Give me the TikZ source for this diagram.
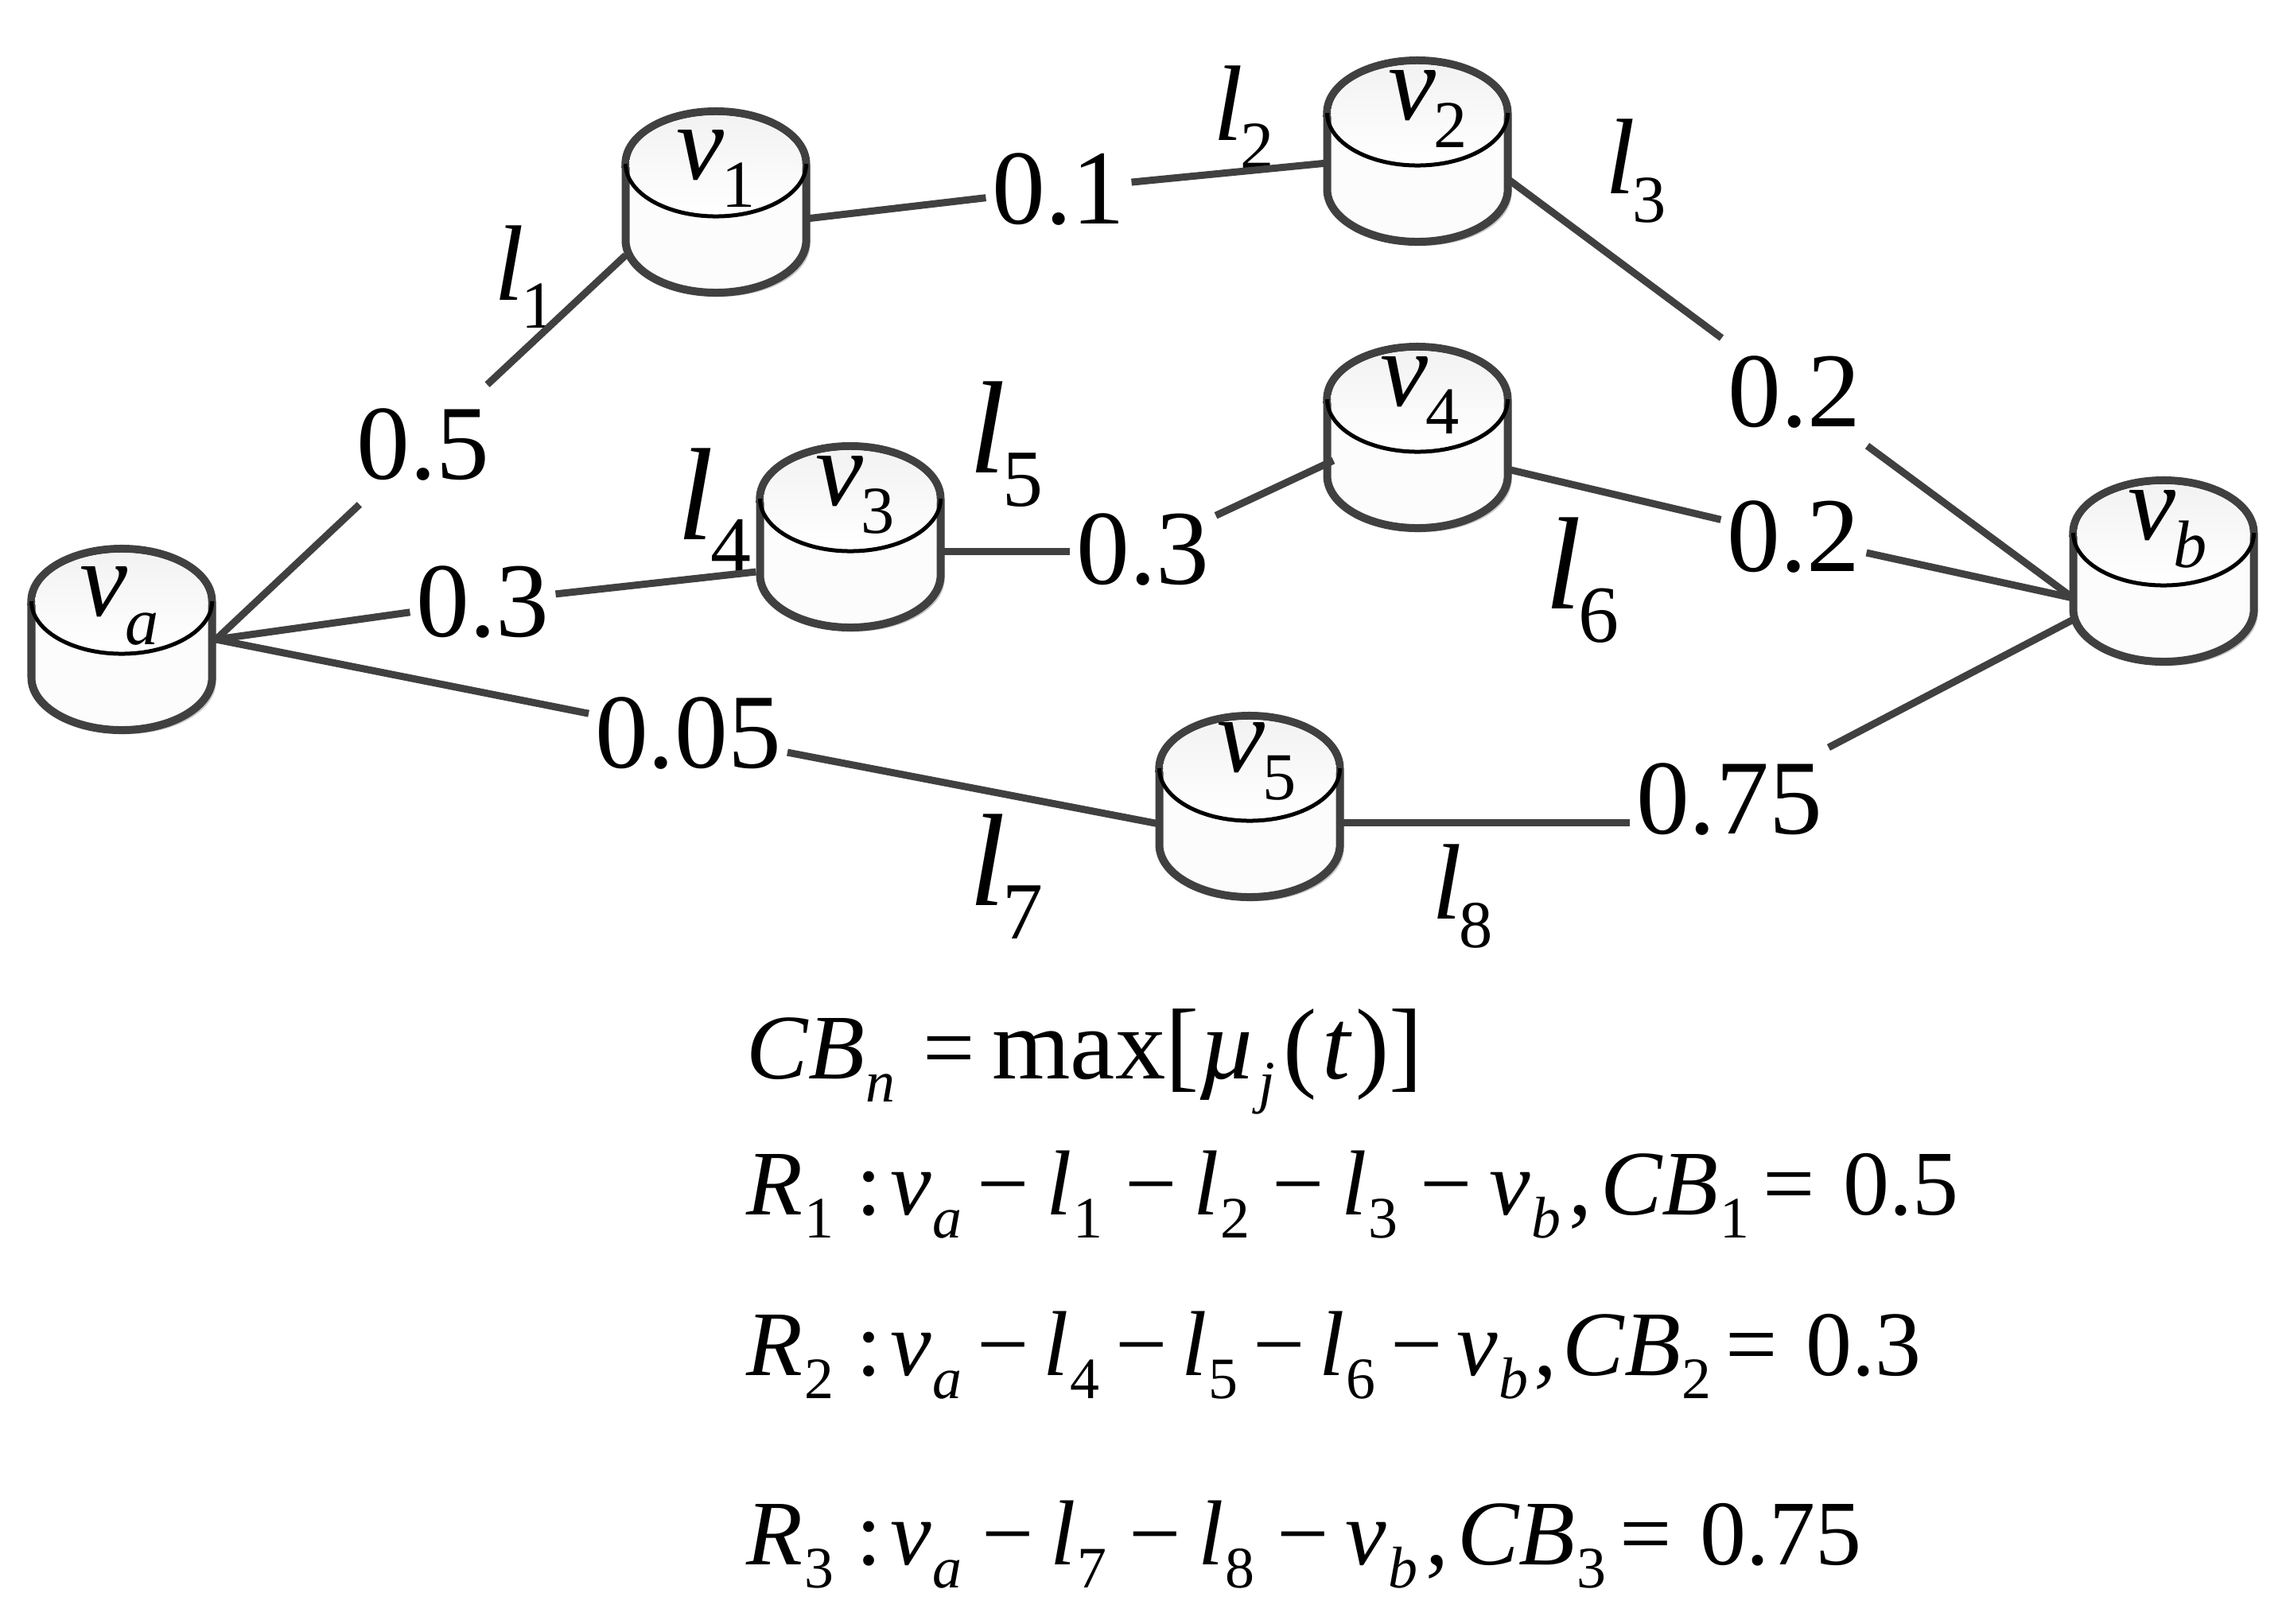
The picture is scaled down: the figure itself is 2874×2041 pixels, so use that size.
\documentclass[tikz,border=0pt]{standalone}
\usepackage{fontspec}
\setmainfont{Liberation Serif}
\newcommand\GT[2]{{\fontsize{38.4}{40}\selectfont\itshape #1}\kern-1pt\raisebox{-10pt}{\fontsize{24}{26}\selectfont #2}}
\newcommand\GL[2]{{\fontsize{47}{50}\selectfont\itshape #1}\kern-1pt\raisebox{-12pt}{\fontsize{29}{31}\selectfont #2}}
\newcommand\GI[2]{{\fontsize{38.4}{40}\selectfont\itshape #1}\kern-1pt\raisebox{-10pt}{\fontsize{24}{26}\selectfont\itshape #2}}
\newcommand\FT[2]{{\itshape #1}\kern.5pt\raisebox{-8.5pt}{\fontsize{21}{23}\selectfont #2}}
\newcommand\FI[2]{{\itshape #1}\kern.5pt\raisebox{-8.5pt}{\fontsize{21}{23}\selectfont\itshape #2}}
\newcommand\MN[2]{\kern#1pt\char"2212\kern#2pt}
\newcommand\EQ{\kern5pt=\kern10pt}
\definecolor{cylline}{HTML}{404040}
\tikzset{
  x=0.01cm,y=-0.01cm,
  cylnode/.style={minimum width=2.27cm,minimum height=2.28cm,inner sep=0pt,outer sep=0pt},
  cyltext/.style={inner sep=0pt},
  conn/.style={line width=0.09cm,draw=cylline},
  edgelab/.style={font=\fontsize{38}{40}\selectfont,inner xsep=0.08cm,inner ysep=0.3cm,outer sep=0pt},
  linklab/.style={inner sep=0pt},
  formula/.style={anchor=base west,inner sep=0pt,font=\fontsize{33}{36}\selectfont}
}
\newcommand\cyl[3]{%
  \node[cylnode] (#1) at (#2,#3) {};
  \begin{scope}[shift={(#2,#3)}]
    \fill[black!22] (-108.5,-43) -- (-108.5,53) arc[start angle=180,end angle=360,x radius=1.135cm,y radius=.66cm] -- (118.5,-43) arc[start angle=0,end angle=180,x radius=1.135cm,y radius=.66cm] -- cycle;
    \path[fill=white!99!black,draw=cylline,line width=0.1cm] (-113.5,-48) -- (-113.5,48) arc[start angle=180,end angle=360,x radius=1.135cm,y radius=.66cm] -- (113.5,-48) arc[start angle=0,end angle=180,x radius=1.135cm,y radius=.66cm] -- cycle;
    \shade[top color=black!5,bottom color=white] (-108.5,-48) arc[start angle=180,end angle=360,x radius=1.085cm,y radius=.64cm] -- (108.5,-48) arc[start angle=0,end angle=180,x radius=1.085cm,y radius=.61cm] -- cycle;
    \draw[black,line width=0.05cm] (-113.5,-48) arc[start angle=180,end angle=360,x radius=1.135cm,y radius=.66cm];
  \end{scope}}
\begin{document}
\begin{tikzpicture}
\useasboundingbox (0,0) rectangle (2874,2041);
\fill[white] (0,0) rectangle (2874,2041);
\cyl{va}{153}{804}
\cyl{v1}{900}{254}
\cyl{v2}{1782}{190}
\cyl{v3}{1069}{675}
\cyl{v4}{1782}{550}
\cyl{v5}{1571}{1014}
\cyl{vb}{2720}{718}
% cylinder labels
\node[cyltext] (tva) at (150,762) {\GI{v}{a}};
\node[cyltext] (tv1) at (900,212) {\GT{v}{1}};
\node[cyltext] (tv2) at (1795,137) {\GT{v}{2}};
\node[cyltext] (tv3) at (1075,622) {\GT{v}{3}};
\node[cyltext] (tv4) at (1785,497) {\GT{v}{4}};
\node[cyltext] (tv5) at (1580,957) {\GT{v}{5}};
\node[cyltext] (tvb) at (2725,665) {\GI{v}{b}};
% edge weights
\node[edgelab] (w1) at (532,559) {0.5};
\node[edgelab] (w2) at (1331,238) {0.1};
\node[edgelab] (w3) at (2256,493) {0.2};
\node[edgelab] (w4) at (607,757) {0.3};
\node[edgelab] (w5) at (1437,691) {0.3};
\node[edgelab] (w6) at (2255,675) {0.2};
\node[edgelab] (w7) at (865,922) {0.05};
\node[edgelab] (w8) at (2174,1005) {0.75};
% link labels
\node[linklab] (l1) at (660,348) {\GT{l}{1}};
\node[linklab] (l2) at (1564,147) {\GT{l}{2}};
\node[linklab] (l3) at (2057,215) {\GT{l}{3}};
\node[linklab] (l4) at (898,642) {\GL{l}{4}};
\node[linklab] (l5) at (1265,559) {\GL{l}{5}};
\node[linklab] (l6) at (1989,730) {\GL{l}{6}};
\node[linklab] (l7) at (1265,1102) {\GL{l}{7}};
\node[linklab] (l8) at (1839,1127) {\GT{l}{8}};
% connectors
\draw[conn] ([xshift=0.05cm]va.east) -- (w1);
\draw[conn] (w1) -- ([yshift=-0.67cm]v1.west);
\draw[conn] ([xshift=0.05cm]va.east) -- (w4);
\draw[conn] (w4) -- ([yshift=-0.44cm,xshift=-0.05cm]v3.west);
\draw[conn] ([xshift=0.05cm]va.east) -- (w7);
\draw[conn] (w7) -- ([yshift=-0.22cm]v5.west);
\draw[conn] ([yshift=-0.21cm]v1.east) -- (w2);
\draw[conn] (w2) -- ([yshift=-0.15cm]v2.west);
\draw[conn] ([yshift=-0.35cm]v2.east) -- (w3);
\draw[conn] (w3) -- ([yshift=-0.34cm]vb.west);
\draw[conn] ([yshift=-0.18cm]v3.east) -- ([yshift=-0.18cm]v3.east -| w5.west);
\draw[conn] (w5) -- ([yshift=-0.29cm,xshift=0.08cm]v4.west);
\draw[conn] ([yshift=-0.40cm]v4.east) -- (w6);
\draw[conn] (w6) -- ([yshift=-0.34cm]vb.west);
\draw[conn] ([yshift=-0.20cm]v5.east) -- ([yshift=-0.20cm]v5.east -| w8.west);
\draw[conn] (w8) -- ([yshift=-0.61cm]vb.west);
% formulas
\node[formula] (f0) at (938,1356) {\FI{CB}{n}\kern5pt\EQ\kern-4pt{\fontsize{36}{38}\selectfont max[\FI{\textmu}{j}\kern3pt(\kern2pt{\itshape t}\kern2pt)]}};
\node[formula] (f1) at (938,1527) {\FT{R}{1}\kern8pt:\kern3pt\FI{v}{a}\MN{5.5}{6}\FT{l}{1}\MN{8}{6}\FT{l}{2}\MN{8}{6}\FT{l}{3}\MN{8}{6}\FI{v}{b}\kern3pt,\kern3pt\FT{CB}{1}\EQ 0.5};
\node[formula] (f2) at (938,1729) {\FT{R}{2}\kern8pt:\kern3pt\FI{v}{a}\MN{5.5}{5}\FT{l}{4}\MN{5.5}{5}\FT{l}{5}\MN{5.5}{5}\FT{l}{6}\MN{5.5}{5}\FI{v}{b}\kern2pt,\kern2pt\FT{CB}{2}\EQ 0.3};
\node[formula] (f3) at (938,1967) {\FT{R}{3}\kern8pt:\kern3pt\FI{v}{a}\MN{7}{6}\FT{l}{7}\MN{8}{6}\FT{l}{8}\MN{8}{6}\FI{v}{b}\kern3pt,\kern3pt\FT{CB}{3}\EQ 0.75};
\end{tikzpicture}
\end{document}
